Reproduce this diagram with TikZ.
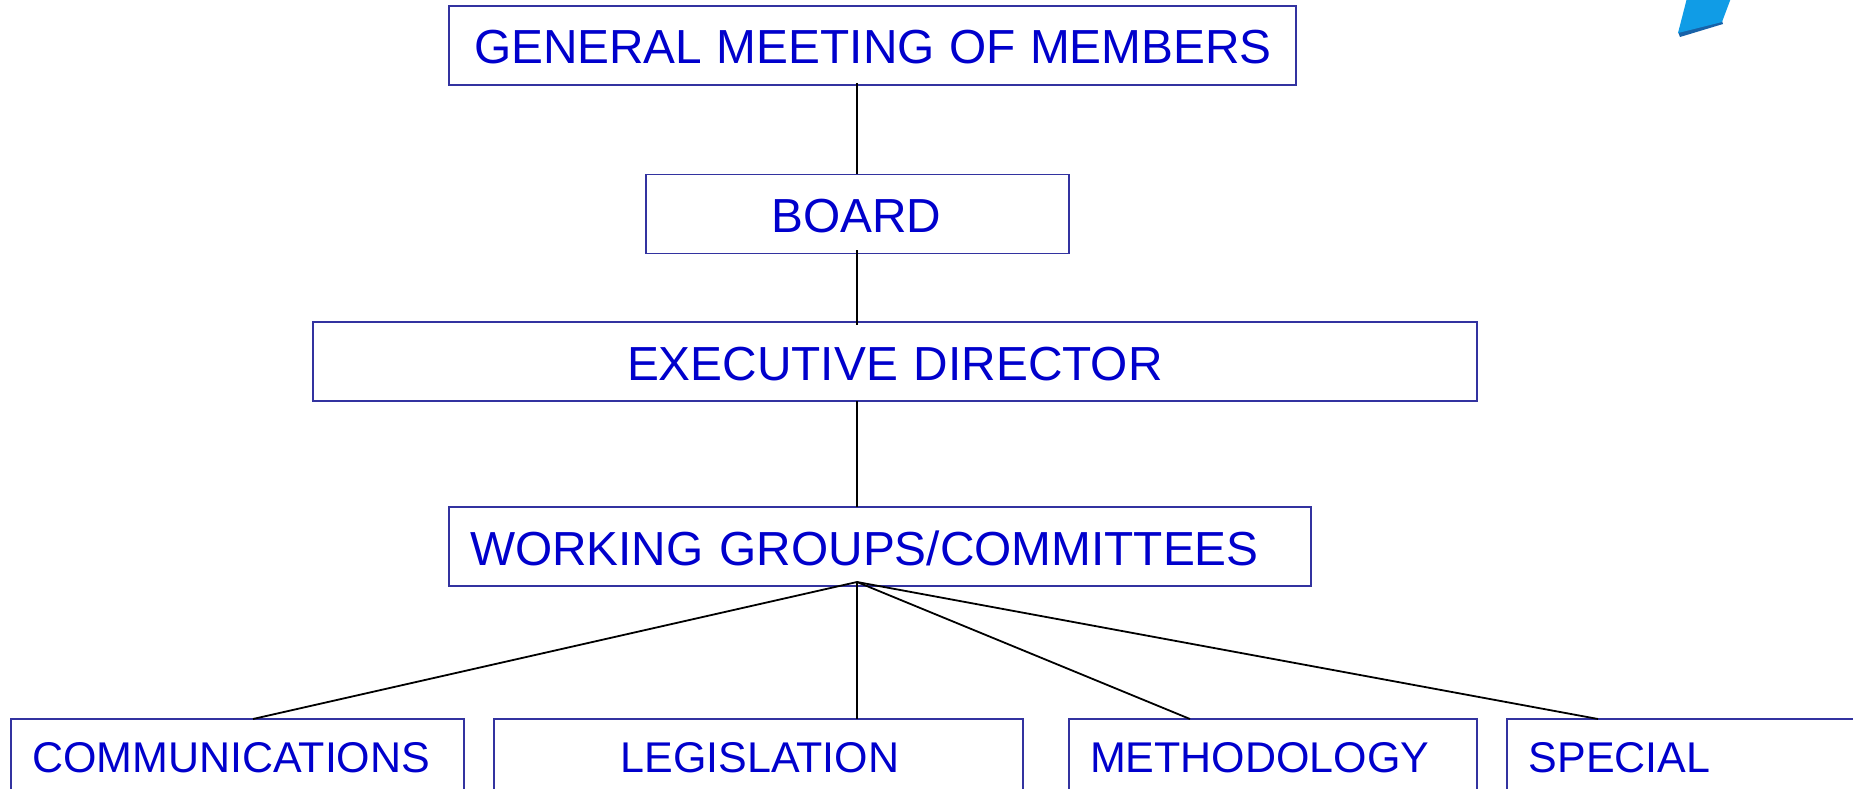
\documentclass[tikz,border=0pt]{standalone}
\usepackage{fontspec}
\setmainfont{Liberation Sans}
\definecolor{boxline}{HTML}{3333A0}
\definecolor{boxtext}{HTML}{0000CC}
\definecolor{logoblue}{HTML}{109CE6}
\definecolor{logoshade}{HTML}{1862A8}
\newcommand{\padlabel}[2]{\hspace*{#1pt}\mbox{#2}}
\tikzset{
  orgbox/.style={draw=boxline,line width=1.7pt,rectangle,inner sep=0pt,outer sep=0pt,text=boxtext,align=left,font=\fontsize{47.8}{50}\selectfont,text height=37pt,text depth=0pt},
  subbox/.style={orgbox,font=\fontsize{43}{46}\selectfont,text height=34pt},
  link/.style={draw=black,line width=1.8pt},
}
\begin{document}
\begin{tikzpicture}[x=1pt,y=-1pt]
\useasboundingbox (0,0) rectangle (1853,789);
\clip (0,0) rectangle (1853,789);
% logo fragment
\fill[logoshade] (1678,32) -- (1722,21) -- (1723,24) -- (1680,37) -- cycle;
\fill[logoblue] (1687,-2) -- (1731,-2) -- (1722,22) -- (1678,33) -- cycle;
% boxes
\node[orgbox,minimum height=79pt,text width=847pt] (gm) at (872.5,45.5) {\padlabel{25}{\spaceskip=14.5pt GENERAL MEETING OF MEMBERS}};
\node[orgbox,minimum height=79pt,text width=423pt] (board) at (857.5,214) {\padlabel{125.5}{BOARD}};
\node[orgbox,minimum height=79pt,text width=1164pt] (exec) at (895,361.5) {\padlabel{314}{EXECUTIVE DIRECTOR}};
\node[orgbox,minimum height=79pt,text width=862pt] (wg) at (880,546.5) {\padlabel{21}{WORKING GROUPS/COMMITTEES}};
\node[subbox,minimum height=73pt,text width=453pt] (comm) at (237.5,755.5) {\padlabel{21}{COMMUNICATIONS}};
\node[subbox,minimum height=73pt,text width=529pt] (leg) at (758.5,755.5) {\padlabel{126.5}{LEGISLATION}};
\node[subbox,minimum height=73pt,text width=408pt] (meth) at (1273,755.5) {\padlabel{21}{METHODOLOGY}};
\node[subbox,minimum height=73pt,text width=380pt] (spec) at (1697,755.5) {\padlabel{21.7}{SPECIAL}};
% connector ends
\coordinate (gmout) at (857,83);
\coordinate (boardin) at (857,174);
\coordinate (boardout) at (857,250);
\coordinate (execin) at (857,325);
\coordinate (execout) at (857,401);
\coordinate (wgin) at (857,507);
\coordinate (apex) at (857,582);
\coordinate (commin) at (253,719);
\coordinate (legin) at (857,719);
\coordinate (methin) at (1190,719);
\coordinate (specin) at (1598,719);
% connectors
\draw[link] (gmout) -- (boardin);
\draw[link] (boardout) -- (execin);
\draw[link] (execout) -- (wgin);
\draw[link] (apex) -- (commin);
\draw[link] (apex) -- (legin);
\draw[link] (apex) -- (methin);
\draw[link] (apex) -- (specin);
\end{tikzpicture}
\end{document}
